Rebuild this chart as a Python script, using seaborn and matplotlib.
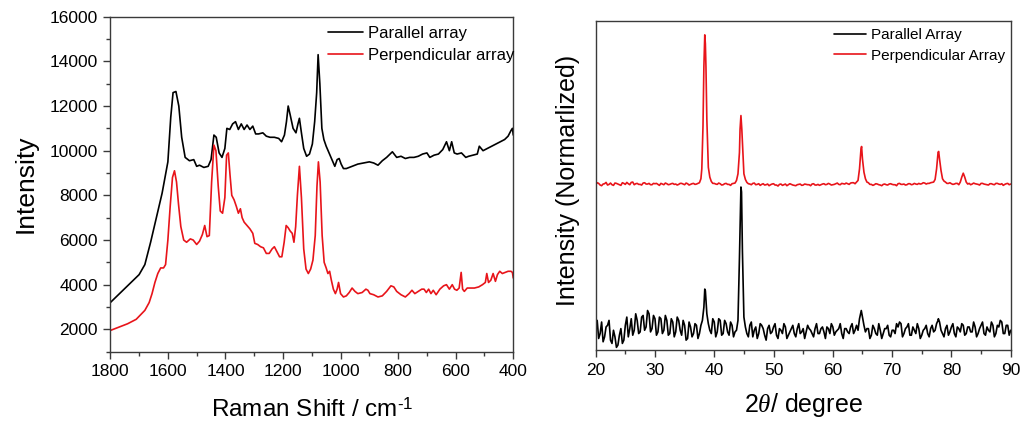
import numpy as np
import pandas as pd
import matplotlib
matplotlib.use("Agg")
import matplotlib.pyplot as plt
from matplotlib.ticker import MultipleLocator
import seaborn as sns

# ---------------- Raman data (left panel) ----------------
raman_par_x = [1800, 1760, 1720, 1700, 1680, 1660, 1640, 1620, 1600, 1590, 1582, 1572, 1562, 1552,
               1540, 1525, 1510, 1500, 1490, 1475, 1460, 1450, 1440, 1432, 1422, 1412, 1402, 1395,
               1385, 1375, 1365, 1355, 1345, 1335, 1325, 1315, 1305, 1295, 1285, 1270, 1258, 1245,
               1230, 1215, 1205, 1195, 1188, 1182, 1175, 1165, 1155, 1148, 1143, 1136, 1128, 1118,
               1108, 1098, 1090, 1083, 1078, 1072, 1065, 1058, 1050, 1040, 1030, 1020, 1012, 1005,
               998, 990, 980, 960, 940, 920, 900, 885, 870, 855, 840, 820, 805, 790, 775, 760, 745,
               730, 715, 700, 690, 675, 660, 645, 632, 622, 614, 605, 595, 580, 565, 555, 540, 525,
               518, 505, 490, 475, 460, 445, 430, 418, 408, 403, 400]
raman_par_y = [3200, 3700, 4200, 4450, 4900, 5900, 7000, 8100, 9500, 11500, 12600, 12650, 12000, 10600,
               9700, 9550, 9600, 9300, 9350, 9250, 9300, 9600, 10700, 10600, 9900, 9700, 10100, 11000,
               10950, 11200, 11300, 10950, 11200, 10950, 11150, 10950, 11100, 10750, 10750, 10800, 10650, 10600,
               10600, 10550, 10400, 10700, 11300, 12000, 11600, 11000, 10800, 11200, 11450, 10800, 10100, 9750,
               9850, 10300, 11300, 12600, 14300, 13000, 11000, 10500, 10200, 9900, 9600, 9300, 9600, 9650,
               9400, 9200, 9200, 9300, 9400, 9450, 9500, 9450, 9350, 9550, 9700, 9950, 9700, 9750, 9650, 9700, 9700,
               9750, 9850, 9900, 9700, 9800, 9850, 10050, 10400, 10000, 10400, 9900, 9850, 9900, 9700, 9750, 9800, 9850,
               10200, 10000, 10100, 10200, 10300, 10400, 10500, 10650, 10900, 11000, 10700]

raman_perp_x = [1800, 1770, 1740, 1710, 1680, 1665, 1655, 1645, 1635, 1625, 1615, 1608, 1600, 1592,
                1584, 1577, 1570, 1563, 1555, 1545, 1535, 1522, 1512, 1500, 1490, 1480, 1472, 1464,
                1456, 1448, 1440, 1433, 1425, 1418, 1410, 1402, 1396, 1390, 1384, 1378, 1370, 1362,
                1355, 1348, 1342, 1335, 1325, 1315, 1305, 1298, 1288, 1278, 1268, 1258, 1248, 1238,
                1230, 1222, 1212, 1204, 1196, 1189, 1182, 1175, 1168, 1162, 1156, 1150, 1143, 1136,
                1128, 1120, 1112, 1104, 1096, 1088, 1082, 1077, 1071, 1064, 1057, 1050, 1044, 1038,
                1032, 1025, 1018, 1012, 1007, 1000, 990, 980, 970, 960, 950, 940, 925, 912, 905, 898,
                885, 870, 855, 840, 825, 815, 805, 790, 775, 762, 752, 742, 730, 718, 710, 702, 694,
                686, 678, 668, 655, 642, 632, 622, 612, 604, 596, 588, 581, 576, 570, 560, 548, 535,
                520, 507, 497, 492, 486, 478, 470, 462, 455, 447, 438, 428, 418, 408, 403, 400]
raman_perp_y = [1950, 2100, 2250, 2450, 2850, 3200, 3600, 4100, 4500, 4750, 4750, 4900, 6000, 7500,
                8800, 9100, 8600, 7600, 6600, 6000, 5900, 6050, 6000, 5800, 5950, 6250, 6650, 6150,
                6200, 8600, 10250, 10000, 8400, 7300, 7200, 7900, 9800, 9900, 8900, 8000, 7800, 7500,
                7200, 7400, 7000, 6800, 6650, 6500, 6300, 5850, 5800, 5700, 5650, 5400, 5400, 5600,
                5700, 5500, 5250, 5250, 5900, 6650, 6550, 6400, 6300, 5900, 6600, 8000, 9300, 7900,
                5600, 4700, 4500, 4700, 5100, 6200, 8400, 9500, 8600, 6200, 5000, 4750, 4500, 4600,
                4200, 3800, 3600, 3800, 4100, 3600, 3450, 3500, 3650, 3850, 3700, 3600, 3650, 3800, 3750, 3600,
                3550, 3450, 3500, 3700, 3950, 3900, 3700, 3550, 3450, 3600, 3750, 3600, 3700, 3800, 3800, 3650, 3800,
                3600, 3750, 3550, 3800, 3950, 4000, 3800, 4000, 3800, 3750, 3850, 4550, 3800, 3700, 3850, 3850, 3850,
                3900, 4000, 4100, 4500, 4100, 4200, 4500, 4150, 4450, 4600, 4500, 4550, 4600, 4600, 4550, 4300]

# ---------------- XRD data (right panel, normalized 0-100) ----------------
# samples on the half-degree grid, on the quarter-offset grid, plus peak-top samples
xrd_grid_a = np.arange(20.0, 90.01, 0.5)
xrd_grid_b = np.arange(20.25, 89.76, 0.5)

xrd_par_a = [6.5, 3.5, 8.5, 4.0, 7.5, 3.0, 6.0, 0.8, 4.5, 2.0, 7.5, 4.0, 9.5, 6.0, 9.0, 5.5,
             10.5, 7.0, 11.0, 6.5, 9.5, 5.5, 9.5, 6.0, 9.0, 5.0, 8.5, 5.5, 9.0, 4.5, 7.5, 3.5,
             7.0, 5.0, 7.5, 5.0, 9.0, 18.0, 8.0, 5.0, 8.5, 5.5, 9.0, 5.0, 8.0, 4.5, 7.5, 5.5,
             9.0, 49.5, 10.0, 5.0, 7.5, 4.0, 7.0, 5.0, 7.5, 4.5, 6.5, 5.0, 7.0, 4.5, 6.5, 5.0,
             7.0, 4.5, 6.5, 5.0, 6.5, 5.0, 6.5, 5.5, 6.5, 5.0, 6.5, 5.0, 6.5, 5.5, 7.0, 5.0,
             7.0, 5.5, 6.5, 5.0, 6.5, 5.5, 7.0, 5.0, 7.5, 9.5, 10.0, 5.5, 6.5, 4.5, 6.5, 4.5,
             6.0, 5.0, 6.5, 4.5, 6.0, 5.0, 7.0, 8.0, 5.0, 7.0, 4.5, 7.0, 5.0, 6.5, 4.5, 6.5,
             5.0, 6.5, 5.5, 8.0, 8.5, 5.0, 6.5, 4.5, 7.0, 5.0, 7.0, 5.5, 7.5, 5.0, 7.0, 5.5,
             7.0, 5.0, 7.5, 5.0, 7.0, 5.5, 7.5, 5.0, 7.0, 8.5, 5.0, 7.5, 6.0]
xrd_par_b = [9.0, 5.0, 2.5, 7.0, 9.0, 2.0, 4.0, 1.5, 6.5, 3.0,
             10.0, 6.5, 4.5, 11.0, 5.0, 10.0, 6.0, 12.0, 5.5, 10.5,
             4.5, 10.0, 5.0, 10.5, 4.5, 9.5, 4.0, 10.0, 6.0, 9.0,
             3.0, 8.5, 4.0, 8.0, 3.5, 7.5, 13.0, 11.0, 6.0, 9.5,
             4.0, 9.5, 4.5, 9.0, 5.5, 8.5, 4.0, 6.0, 28.0, 30.0,
             7.0, 4.0, 8.5, 6.0, 3.5, 8.0, 6.5, 3.0, 7.5, 5.5,
             8.0, 3.5, 6.0, 8.0, 3.5, 5.5, 7.5, 4.0, 8.0, 5.5,
             3.5, 7.5, 6.0, 4.0, 8.0, 5.0, 7.0, 3.5, 6.5, 8.0,
             4.5, 6.0, 8.0, 3.5, 6.5, 5.0, 8.0, 6.0, 6.0, 11.5,
             7.5, 6.5, 3.5, 7.5, 5.0, 8.0, 3.5, 6.5, 7.5, 4.0,
             6.0, 8.0, 8.5, 4.0, 6.5, 8.0, 4.5, 6.0, 8.0, 3.5,
             6.0, 7.5, 4.0, 7.5, 6.0, 9.0, 6.0, 4.0, 7.5, 5.5,
             8.0, 4.0, 6.5, 8.0, 4.5, 7.0, 5.5, 8.5, 4.0, 6.5,
             8.5, 4.5, 6.0, 8.5, 4.0, 7.5, 9.0, 5.0, 7.5, 4.5]
xrd_par_peak_x = [38.4, 44.6, 64.8, 77.8]
xrd_par_peak_y = [18.5, 48.0, 12.0, 9.5]

xrd_perp_a = [50.2, 50.6, 49.9, 50.5, 50.1, 50.7, 50.0, 50.6, 50.2, 50.8, 50.3, 50.5, 50.9, 50.2, 50.6, 50.3,
              50.7, 50.4, 50.6, 50.2, 50.5, 50.3, 50.6, 50.2, 50.5, 50.3, 50.6, 50.4, 50.3, 50.6, 50.2, 50.5,
              50.3, 50.6, 50.4, 50.8, 62.0, 93.0, 55.5, 51.2, 50.6, 50.3, 50.5, 50.2, 50.6, 50.3, 50.5, 50.7,
              53.5, 71.2, 53.5, 50.9, 50.4, 50.6, 50.2, 50.5, 50.3, 50.1, 50.4, 50.2, 50.5, 50.1, 50.3, 50.0,
              50.4, 50.2, 50.3, 50.0, 50.2, 50.4, 50.1, 50.3, 50.2, 50.4, 50.1, 50.3, 50.2, 50.5, 50.3, 50.4,
              50.2, 50.5, 50.3, 50.6, 50.4, 50.5, 50.7, 50.8, 51.0, 55.0, 58.0, 52.0, 50.8, 50.3, 50.2, 50.4,
              50.1, 50.3, 50.2, 50.4, 50.3, 50.2, 50.5, 50.3, 50.4, 50.2, 50.5, 50.3, 50.4, 50.6, 50.5, 50.7,
              50.6, 50.8, 51.0, 55.0, 58.0, 52.0, 51.0, 50.6, 50.5, 50.4, 50.6, 51.0, 53.7, 51.0, 50.6, 50.4,
              50.5, 50.3, 50.6, 50.4, 50.2, 50.5, 50.3, 50.6, 50.4, 50.5, 50.3, 50.6, 50.4]
xrd_perp_b = [50.8, 50.1, 50.4, 50.9, 50.3, 50.2, 50.7, 50.4, 50.0, 50.6,
              50.9, 50.2, 51.0, 50.5, 50.3, 50.1, 50.8, 50.4, 50.2, 50.6,
              50.6, 50.0, 50.4, 50.7, 50.2, 50.5, 50.3, 50.1, 50.6, 50.4,
              50.7, 50.1, 50.5, 50.3, 50.6, 52.0, 86.0, 70.0, 52.5, 50.6,
              50.4, 50.7, 50.1, 50.5, 50.3, 50.0, 50.6, 51.5, 60.0, 63.0,
              51.8, 50.5, 50.2, 50.7, 50.3, 50.0, 50.5, 50.2, 49.9, 50.4,
              50.1, 49.8, 50.4, 50.2, 49.9, 50.5, 50.1, 49.9, 50.3, 50.0,
              50.4, 50.2, 49.9, 50.5, 50.1, 50.0, 50.4, 50.2, 50.6, 50.1,
              50.3, 50.7, 50.2, 50.5, 50.7, 50.3, 50.8, 50.5, 51.5, 61.0,
              54.0, 51.0, 50.3, 50.0, 50.5, 50.2, 49.9, 50.4, 50.1, 50.5,
              50.2, 49.9, 50.6, 50.3, 50.1, 50.5, 50.2, 50.6, 50.3, 50.4,
              50.8, 50.4, 50.6, 50.9, 51.8, 60.0, 54.5, 51.3, 50.6, 50.8,
              50.3, 50.6, 50.2, 52.5, 52.5, 50.4, 50.2, 50.7, 50.4, 50.1,
              50.6, 50.3, 50.1, 50.5, 50.2, 50.6, 50.3, 50.0, 50.5, 50.2]
xrd_perp_peak_x = [37.9, 38.1, 38.4, 38.6, 44.35, 44.65, 64.85, 77.85]
xrd_perp_peak_y = [55.0, 68.0, 95.7, 86.0, 67.0, 67.0, 61.8, 60.3]

# ---------------- styling ----------------
sns.set_theme(style="ticks")
plt.rcParams["font.family"] = ["Liberation Sans", "DejaVu Sans"]
plt.rcParams["mathtext.fontset"] = "custom"
plt.rcParams["mathtext.rm"] = "Liberation Sans"
plt.rcParams["mathtext.it"] = "Liberation Serif:italic"
plt.rcParams["text.color"] = "black"
plt.rcParams["axes.labelcolor"] = "black"
plt.rcParams["xtick.labelcolor"] = "black"
plt.rcParams["ytick.labelcolor"] = "black"

BLACK = "#000000"
RED = "#e8141a"
SPINE = "#3a3a3a"

fig = plt.figure(figsize=(10.29, 4.28), dpi=100)
ax1 = fig.add_axes([0.1072, 0.1783, 0.3916, 0.7827])
ax2 = fig.add_axes([0.5789, 0.1822, 0.4033, 0.7694])

# Left panel: Raman
sns.lineplot(x=raman_par_x, y=raman_par_y, ax=ax1, color=BLACK, lw=1.2,
             estimator=None, label="Parallel array")
sns.lineplot(x=raman_perp_x, y=raman_perp_y, ax=ax1, color=RED, lw=1.2,
             estimator=None, label="Perpendicular array")
ax1.set_xlim(1800, 400)
ax1.set_ylim(1000, 16000)
ax1.xaxis.set_major_locator(MultipleLocator(200))
ax1.xaxis.set_minor_locator(MultipleLocator(100))
ax1.yaxis.set_major_locator(MultipleLocator(2000))
ax1.yaxis.set_minor_locator(MultipleLocator(1000))
ax1.set_xlabel("Raman Shift / cm$^{\u20101}$", fontsize=17.5, va="center")
ax1.set_ylabel("Intensity", fontsize=19, va="center")
ax1.xaxis.set_label_coords(0.5, -0.175)
ax1.yaxis.set_label_coords(-0.21, 0.5)

# Right panel: XRD
par_df = pd.DataFrame({"x": list(xrd_grid_a) + list(xrd_grid_b) + xrd_par_peak_x,
                       "y": xrd_par_a + xrd_par_b + xrd_par_peak_y}).sort_values("x")
perp_df = pd.DataFrame({"x": list(xrd_grid_a) + list(xrd_grid_b) + xrd_perp_peak_x,
                        "y": xrd_perp_a + xrd_perp_b + xrd_perp_peak_y}).sort_values("x")
sns.lineplot(data=par_df, x="x", y="y", ax=ax2, color=BLACK, lw=1.2,
             estimator=None, label="Parallel Array")
sns.lineplot(data=perp_df, x="x", y="y", ax=ax2, color=RED, lw=1.2,
             estimator=None, label="Perpendicular Array")
ax2.set_xlim(20, 90)
ax2.set_ylim(0, 100)
ax2.xaxis.set_major_locator(MultipleLocator(10))
ax2.xaxis.set_minor_locator(MultipleLocator(5))
ax2.set_yticks([])
ax2.set_xlabel(r"2$\theta$/ degree", fontsize=18, va="center")
ax2.set_ylabel("Intensity (Normarlized)", fontsize=18, va="center")
ax2.xaxis.set_label_coords(0.5, -0.167)
ax2.yaxis.set_label_coords(-0.067, 0.516)

for ax in (ax1, ax2):
    for sp in ax.spines.values():
        sp.set_visible(True)
        sp.set_color(SPINE)
        sp.set_linewidth(1.0)
    ax.tick_params(axis="both", which="major", direction="out", length=5, width=1.0,
                   color=SPINE, labelsize=12.5, labelcolor="black", pad=4, top=False, right=False)
    ax.tick_params(axis="both", which="minor", direction="out", length=3, width=1.0,
                   color=SPINE, top=False, right=False)

ax1.legend(loc="upper left", bbox_to_anchor=(0.54, 0.973), frameon=False, fontsize=12,
           handlelength=2.1, handletextpad=0.3, labelspacing=0.42, borderpad=0, borderaxespad=0)
ax2.legend(loc="upper left", bbox_to_anchor=(0.574, 0.978), frameon=False, fontsize=11,
           handlelength=2.1, handletextpad=0.3, labelspacing=0.45, borderpad=0, borderaxespad=0)

fig.savefig("out.png", dpi=100)
